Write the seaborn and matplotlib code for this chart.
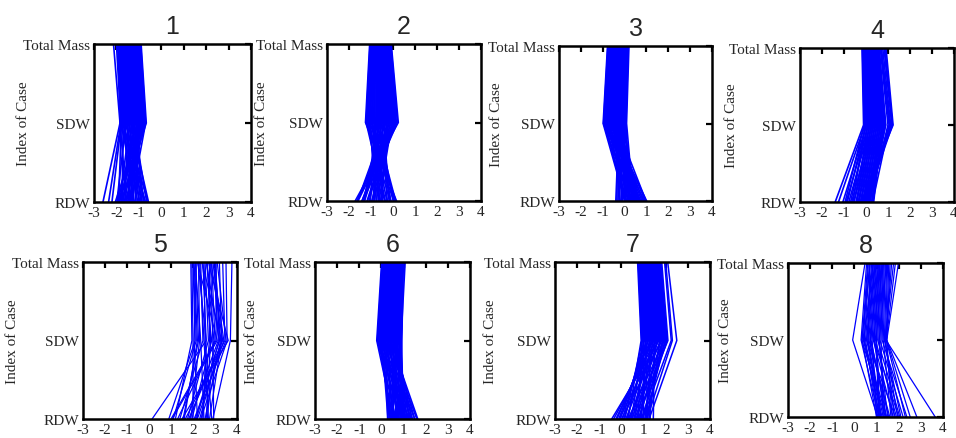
import matplotlib
matplotlib.use("Agg")
import matplotlib.pyplot as plt
import seaborn as sns
import pandas as pd

# ---- data: per panel, x-value of each case at Total Mass / SDW / RDW ----
tm1 = [-1.90,-1.88,-1.85,-1.83,-1.80,-1.78,-1.75,-1.73,-1.70,-1.68,-1.65,-1.63,-1.60,-1.58,-1.55,-1.53,-1.50,-1.48,-1.45,-1.43,-1.40,-1.38,-1.35,-1.33,-1.30,-1.28,-1.25,-1.23,-1.20,-1.18,-1.15,-1.13,-1.10,-1.08,-1.05,-1.03,-1.00,-0.98,-0.95,-0.92,-0.90,-2.13,-2.00,-1.95,-1.20]
sdw1 = [-1.84,-1.82,-1.78,-1.76,-1.72,-1.70,-1.66,-1.64,-1.61,-1.58,-1.55,-1.52,-1.49,-1.47,-1.43,-1.41,-1.37,-1.35,-1.31,-1.29,-1.26,-1.23,-1.20,-1.17,-1.14,-1.11,-1.08,-1.06,-1.02,-1.00,-0.96,-0.94,-0.90,-0.88,-0.85,-0.82,-0.79,-0.76,-0.73,-0.70,-0.67,-1.84,-1.80,-1.78,-0.90]
rdw1 = [-1.55,-0.95,-1.90,-1.20,-0.70,-1.75,-1.05,-1.40,-0.60,-1.98,-0.85,-1.30,-1.62,-0.75,-1.12,-1.85,-0.57,-1.45,-0.92,-1.70,-1.00,-0.65,-1.35,-1.80,-0.80,-1.25,-1.95,-0.88,-1.50,-1.15,-1.65,-1.40,-1.88,-1.55,-1.30,-1.75,-1.45,-1.92,-1.60,-1.35,-1.80,-2.60,-2.35,-2.20,-2.05]

tm2 = [-1.06,-1.04,-1.02,-0.98,-0.99,-0.95,-0.92,-0.93,-0.88,-0.86,-0.87,-0.82,-0.80,-0.81,-0.75,-0.74,-0.72,-0.69,-0.66,-0.63,-0.63,-0.59,-0.56,-0.55,-0.52,-0.49,-0.50,-0.45,-0.42,-0.43,-0.38,-0.36,-0.37,-0.32,-0.30,-0.29,-0.25,-0.23,-0.22,-0.18,-0.17,-0.14,-0.12,-0.10,-0.08]
sdw2 = [-1.25,-1.22,-1.18,-1.15,-1.12,-1.08,-1.05,-1.02,-0.98,-0.95,-0.92,-0.88,-0.85,-0.82,-0.78,-0.75,-0.72,-0.68,-0.65,-0.62,-0.58,-0.55,-0.52,-0.48,-0.45,-0.42,-0.38,-0.35,-0.32,-0.28,-0.25,-0.22,-0.18,-0.15,-0.12,-0.08,-0.05,-0.02,0.02,0.05,0.08,0.12,0.15,0.20,0.24]
rdw2 = [0.16,-0.38,-0.13,0.03,-0.60,-0.35,0.11,-0.83,-0.28,0.08,-0.76,-0.10,-0.64,0.12,-1.03,-0.47,-0.10,-0.86,0.01,-1.33,-0.48,-0.92,-0.26,-1.31,-0.74,-0.18,-1.33,-0.67,-1.61,-0.56,-1.29,-0.53,-1.08,-1.62,-0.86,-1.41,-0.64,-1.18,-1.63,-0.97,-1.41,-1.16,-1.59,-1.36,-1.72]

tm3 = [-0.78,-0.76,-0.74,-0.72,-0.69,-0.67,-0.65,-0.62,-0.61,-0.58,-0.56,-0.54,-0.51,-0.50,-0.47,-0.45,-0.43,-0.40,-0.39,-0.36,-0.34,-0.32,-0.29,-0.28,-0.25,-0.23,-0.21,-0.18,-0.17,-0.14,-0.12,-0.10,-0.07,-0.06,-0.03,-0.01,0.00,0.03,0.05,0.08,0.10,0.12,0.15,0.17,0.20]
sdw3 = [-0.98,-0.96,-0.93,-0.91,-0.88,-0.86,-0.84,-0.81,-0.79,-0.76,-0.74,-0.72,-0.69,-0.67,-0.64,-0.62,-0.60,-0.57,-0.55,-0.52,-0.50,-0.48,-0.45,-0.43,-0.40,-0.38,-0.36,-0.33,-0.31,-0.28,-0.26,-0.24,-0.21,-0.19,-0.16,-0.14,-0.12,-0.09,-0.07,-0.04,-0.02,0.00,0.03,0.06,0.09]
rdw3 = [0.02,0.30,0.10,0.55,0.00,0.75,0.20,0.45,0.90,0.05,0.65,0.35,1.01,0.15,0.80,0.50,0.25,0.95,0.60,0.40,0.85,-0.20,0.70,0.30,0.98,-0.10,0.55,0.15,-0.35,0.45,-0.40,0.65,0.05,-0.30,0.40,-0.15,0.60,0.20,-0.25,0.50,0.00,0.35,-0.10,0.25,0.40]

tm4 = [-0.18,-0.16,-0.14,-0.12,-0.10,-0.07,-0.05,-0.03,-0.01,0.01,0.04,0.05,0.07,0.10,0.12,0.14,0.16,0.18,0.21,0.22,0.24,0.27,0.29,0.31,0.33,0.35,0.37,0.39,0.41,0.44,0.45,0.47,0.50,0.52,0.54,0.55,0.58,0.60,0.65,0.70,0.76,0.82,0.86,0.91,0.68]
sdw4 = [-0.11,-0.08,-0.05,-0.03,0.00,0.03,0.06,0.08,0.11,0.14,0.17,0.19,0.22,0.25,0.28,0.30,0.33,0.36,0.39,0.41,0.44,0.47,0.50,0.52,0.55,0.58,0.61,0.63,0.66,0.69,0.72,0.74,0.77,0.80,0.83,0.85,0.88,0.90,1.00,1.08,1.12,1.17,1.20,1.23,1.05]
rdw4 = [-1.40,-0.95,-1.25,-0.60,-0.85,-1.05,-0.40,-0.70,-0.90,-0.30,-0.55,-0.78,-0.20,-0.45,-0.65,-0.10,-0.35,-0.55,0.00,-0.25,-0.45,0.10,-0.15,-0.35,0.20,-0.05,-0.25,0.28,0.05,-0.15,0.35,0.12,-0.05,0.30,0.18,0.00,0.25,0.10,0.15,-0.05,0.05,-0.15,0.00,-0.22,0.30]

tm5 = [1.90,1.95,2.00,2.05,2.10,2.15,2.20,2.25,2.30,2.35,2.40,2.45,2.50,2.55,2.60,2.65,2.70,2.75,2.80,2.85,2.90,2.95,3.00,3.05,3.10,3.20,3.35,3.50,3.77,2.02,2.22,2.42,2.62,2.82,3.02,2.12]
sdw5 = [1.95,2.00,2.10,2.20,2.35,2.05,3.10,2.30,2.50,2.45,3.30,2.60,2.55,2.70,3.20,2.80,3.60,2.75,2.90,3.00,3.40,3.15,3.25,3.05,3.50,3.30,3.45,3.55,3.70,2.15,2.60,2.85,2.95,3.35,3.20,2.25]
rdw5 = [1.20,2.00,0.90,1.60,2.50,2.20,1.05,1.90,2.70,1.40,2.30,0.14,2.85,1.75,2.10,2.60,1.50,2.40,2.94,1.30,2.20,1.85,2.55,1.00,2.05,2.75,1.65,2.35,2.90,1.10,2.45,1.95,2.65,1.80,2.15,1.55]

tm6 = [0.01,0.04,0.05,0.08,0.10,0.12,0.14,0.17,0.19,0.21,0.24,0.25,0.28,0.31,0.32,0.35,0.37,0.39,0.42,0.44,0.46,0.48,0.51,0.52,0.55,0.58,0.59,0.62,0.64,0.66,0.69,0.70,0.73,0.75,0.77,0.79,0.82,0.84,0.86,0.89,0.90,0.93,0.95,0.97,0.99,1.07]
sdw6 = [-0.21,-0.18,-0.16,-0.13,-0.11,-0.08,-0.06,-0.03,0.00,0.02,0.05,0.07,0.10,0.13,0.15,0.18,0.20,0.23,0.26,0.28,0.31,0.33,0.36,0.38,0.41,0.44,0.46,0.49,0.51,0.54,0.57,0.59,0.62,0.64,0.67,0.69,0.72,0.75,0.77,0.80,0.82,0.85,0.87,0.90,0.92,0.88]
rdw6 = [0.55,0.90,0.65,1.10,0.45,0.80,1.25,0.40,0.95,0.30,1.35,0.60,1.05,0.35,1.50,0.75,0.28,1.20,0.50,1.60,0.90,0.40,1.40,0.70,1.64,1.00,0.55,1.50,0.80,1.30,0.45,1.10,1.38,0.65,1.00,1.25,0.85,0.50,1.15,0.95,0.70,1.05,0.90,1.00,0.85,0.95]

tm7 = [0.73,0.76,0.78,0.81,0.84,0.87,0.89,0.92,0.95,0.97,1.00,1.03,1.05,1.08,1.11,1.14,1.16,1.19,1.22,1.24,1.27,1.30,1.32,1.35,1.38,1.41,1.43,1.46,1.49,1.51,1.54,1.57,1.59,1.62,1.65,1.68,1.70,1.73,1.76,1.78,1.82,2.00,2.09,1.95]
sdw7 = [0.89,0.92,0.95,0.98,1.01,1.04,1.07,1.10,1.13,1.16,1.19,1.22,1.25,1.28,1.31,1.34,1.37,1.40,1.43,1.46,1.49,1.52,1.55,1.58,1.61,1.64,1.67,1.70,1.73,1.76,1.79,1.82,1.85,1.88,1.91,1.94,1.97,2.00,2.03,2.06,2.10,2.30,2.50,2.25]
rdw7 = [0.30,0.75,0.15,1.00,0.45,0.05,1.20,0.60,-0.05,0.90,0.25,-0.12,1.30,0.50,-0.20,0.85,0.10,1.10,-0.25,0.40,1.44,0.70,-0.35,0.20,1.05,0.55,-0.10,-0.44,1.25,0.35,0.80,0.00,1.15,0.60,0.95,0.30,1.10,0.75,0.45,0.90,0.65,1.15,1.25,0.95]

tm8 = [0.48,0.55,0.60,0.63,0.68,0.72,0.78,0.82,0.86,0.90,0.93,0.97,1.00,1.04,1.08,1.12,1.16,1.20,1.24,1.28,1.31,1.35,1.40,1.46,1.50,1.55,1.61,1.68,1.77,1.85,1.99,0.70,1.10,0.95,1.15,0.85,1.25,1.45]
sdw8 = [-0.08,0.30,0.35,0.40,0.45,0.33,0.50,0.55,0.60,0.65,0.70,0.75,0.80,0.85,0.90,0.95,1.00,1.05,1.10,1.15,1.20,1.25,1.30,1.35,1.40,1.45,1.46,1.42,1.38,1.44,1.46,0.62,0.72,0.55,0.88,0.42,0.98,1.12]
rdw8 = [1.05,1.10,1.00,1.25,1.15,1.40,1.05,1.30,1.10,1.60,1.20,1.45,1.00,1.75,1.35,1.90,1.15,2.05,1.50,2.20,1.30,2.37,1.65,2.10,1.80,2.52,2.82,3.65,1.95,2.30,1.70,1.20,1.55,1.85,2.00,1.45,1.10,1.40]

panels = [(tm1, sdw1, rdw1), (tm2, sdw2, rdw2), (tm3, sdw3, rdw3), (tm4, sdw4, rdw4),
          (tm5, sdw5, rdw5), (tm6, sdw6, rdw6), (tm7, sdw7, rdw7), (tm8, sdw8, rdw8)]
titles = ["1", "2", "3", "4", "5", "6", "7", "8"]
var_labels = ["RDW", "SDW", "Total Mass"]
x_ticks = [-3, -2, -1, 0, 1, 2, 3, 4]

# layout (pixels): left, right, top, bottom of each axes box; y-label offset
boxes = [(94, 251, 45, 203), (327, 481, 45, 202), (559, 712, 47, 202), (800, 954, 49, 203),
         (83, 237, 263, 420), (315, 470, 263, 420), (555, 710, 263, 420), (788, 943, 264, 418)]
ylabel_off = [70, 65, 62, 68, 70, 63, 64, 62]
line_w = [1.2, 1.2, 1.2, 1.2, 0.9, 1.2, 1.1, 0.9]

sns.set_style("white")
plt.rcParams['font.family'] = ['Liberation Serif', 'DejaVu Serif']
plt.rcParams['axes.unicode_minus'] = False

W, H = 956, 439
fig = plt.figure(figsize=(W / 100, H / 100), dpi=100)

for i, ((tm, sdw, rdw), (l, r, t, b)) in enumerate(zip(panels, boxes)):
    ax = fig.add_axes([l / W, 1 - b / H, (r - l) / W, (b - t) / H])
    rows = []
    for c in range(len(tm)):
        rows.append({"case": c, "pos": 3, "value": tm[c]})
        rows.append({"case": c, "pos": 2, "value": sdw[c]})
        rows.append({"case": c, "pos": 1, "value": rdw[c]})
    df = pd.DataFrame(rows)
    sns.lineplot(data=df, x="value", y="pos", units="case", estimator=None,
                 orient="y", sort=False, color="#0000ff", linewidth=line_w[i], ax=ax,
                 legend=False)
    ax.set_xlim(-3, 4)
    ax.set_ylim(1, 3)
    ax.set_xticks(x_ticks)
    ax.set_xticklabels([str(v) for v in x_ticks])
    ax.set_yticks([1, 2, 3])
    ax.set_yticklabels(var_labels)
    ax.tick_params(axis="both", direction="in", length=4, width=1.6,
                   top=True, right=True, labelsize=11, pad=3, color="black")
    for sp in ax.spines.values():
        sp.set_linewidth(1.8)
        sp.set_color("black")
        sp.set_visible(True)
    ax.set_xlabel("")
    ax.set_ylabel("Index of Case", fontsize=11)
    wpx = r - l
    ax.yaxis.set_label_coords(-(ylabel_off[i] - 6) / wpx, 0.5)
    ax.set_title(titles[i], fontsize=18, family=["Liberation Sans", "DejaVu Sans"], pad=8)

fig.savefig("out.png", dpi=100)
